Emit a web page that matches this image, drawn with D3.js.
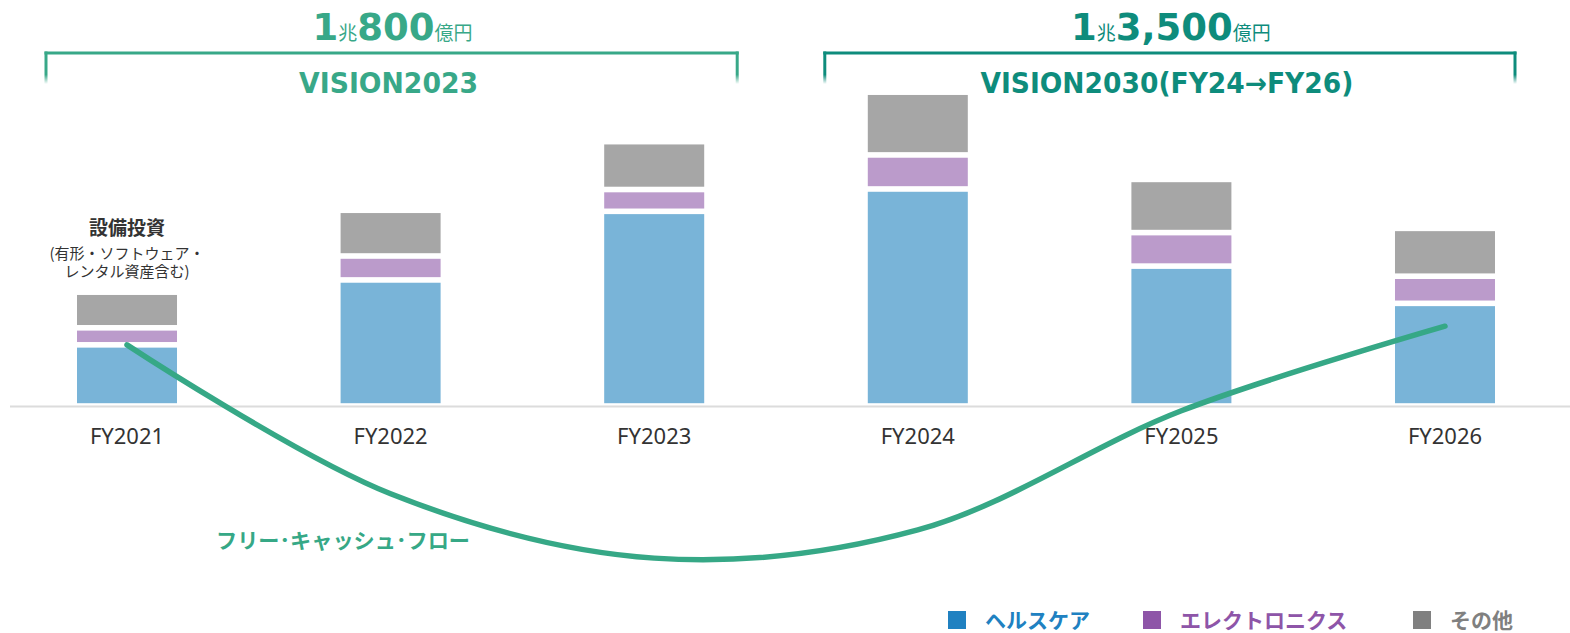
<!DOCTYPE html>
<html>
<head>
<meta charset="utf-8">
<script src="https://cdn.jsdelivr.net/npm/d3@7"></script>
<style>
  body { margin: 0; background: #fff; }
  svg { display: block; }
</style>
</head>
<body>
<div id="viz"></div>
<script>
'use strict';

// 億円
const years = ['FY2021', 'FY2022', 'FY2023', 'FY2024', 'FY2025', 'FY2026'];
const healthcare = [1150, 2370, 3660, 4080, 2630, 1930];
const electronics = [320, 450, 410, 640, 630, 510];
const others = [670, 860, 900, 1180, 1000, 900];
const freeCashFlow = [1150, -1650, -2860, -2330, -90, 1500];

const segmentNames = ['ヘルスケア', 'エレクトロニクス', 'その他'];
const periodNames = ['VISION2023', 'VISION2030(FY24→FY26)'];
const periodTotals = [['1', '兆', '800', '億円'], ['1', '兆', '3,500', '億円']];
const periodYears = [['FY2021', 'FY2023'], ['FY2024', 'FY2026']];

const W = 1570, H = 633;
const barColors = ['#79b4d8', '#bb9bcb', '#a6a6a6'];
const legendColors = ['#2081c1', '#8e55a8', '#808080'];
const periodColors = ['#38a888', '#0e8c7c'];
const fcfColor = '#36a886';

const svg = d3.select('#viz')
  .append('svg')
    .attr('width', W)
    .attr('height', H);

const x = d3.scaleBand()
  .domain(years)
  .range([77, 1495])
  .paddingInner(0.6206)
  .paddingOuter(0);

const y = d3.scaleLinear()
  .domain([0, 6000])
  .range([406, 406 - 6000 / 18.8]);

const cx = d => x(d) + x.bandwidth() / 2;

// stacked bars
const table = years.map((yr, i) => ({
  year: yr, h: healthcare[i], e: electronics[i], o: others[i]
}));
const series = d3.stack().keys(['h', 'e', 'o'])(table);
const gap = 2.8;

svg.append('g')
  .selectAll('g')
  .data(series)
  .join('g')
    .attr('fill', (d, i) => barColors[i])
  .selectAll('rect')
  .data(d => d)
  .join('rect')
    .attr('x', d => x(d.data.year))
    .attr('width', x.bandwidth())
    .attr('y', d => y(d[1]) + gap)
    .attr('height', d => y(d[0]) - y(d[1]) - gap * 2);

// baseline
svg.append('line')
  .attr('x1', 10)
  .attr('x2', W)
  .attr('y1', y(0) + 0.5)
  .attr('y2', y(0) + 0.5)
  .attr('stroke', '#dcdcdc')
  .attr('stroke-width', 2);

// x axis labels
const xAxis = svg.append('g')
  .attr('transform', `translate(0,${y(0)})`)
  .call(d3.axisBottom(x).tickSize(0).tickPadding(22.5));
xAxis.select('.domain').remove();
xAxis.selectAll('text')
  .attr('font-family', '"Noto Sans", sans-serif')
  .attr('font-size', 22)
  .attr('fill', '#333');

// free cash flow curve
const fcf = years.map((yr, i) => ({year: yr, v: freeCashFlow[i]}));
svg.append('path')
  .datum(fcf)
  .attr('fill', 'none')
  .attr('stroke', fcfColor)
  .attr('stroke-width', 5.5)
  .attr('stroke-linecap', 'round')
  .attr('d', d3.line()
    .x(d => cx(d.year))
    .y(d => y(d.v))
    .curve(d3.curveCatmullRom.alpha(0.5))
  );

svg.append('text')
  .attr('x', 216)
  .attr('y', 548)
  .attr('font-family', '"Noto Sans CJK JP", sans-serif')
  .attr('font-weight', 'bold')
  .attr('font-size', 21)
  .attr('fill', fcfColor)
  .attr('textLength', 254)
  .attr('lengthAdjust', 'spacingAndGlyphs')
  .text('フリー･キャッシュ･フロー');

// capex note over FY2021
const note = svg.append('g')
  .attr('text-anchor', 'middle')
  .attr('font-family', '"Noto Sans CJK JP", sans-serif')
  .attr('fill', '#333');
note.append('text')
  .attr('x', cx(years[0]))
  .attr('y', 235)
  .attr('font-weight', 'bold')
  .attr('font-size', 19)
  .text('設備投資');
note.append('text')
  .attr('x', cx(years[0]))
  .attr('y', 259)
  .attr('font-size', 15)
  .text('(有形・ソフトウェア・');
note.append('text')
  .attr('x', cx(years[0]))
  .attr('y', 277)
  .attr('font-size', 15)
  .text('レンタル資産含む)');

// period brackets
const defs = svg.append('defs');
const bracketTop = 53, bracketLeg = 31;
const bracketPad = [[31, 33], [43, 20]];

periodNames.forEach((name, i) => {
  const [a, b] = periodYears[i];
  const x1 = x(a) - bracketPad[i][0];
  const x2 = x(b) + x.bandwidth() + bracketPad[i][1];
  const mid = (x1 + x2) / 2;
  const col = periodColors[i];

  const grad = defs.append('linearGradient')
    .attr('id', 'leg' + i)
    .attr('gradientUnits', 'userSpaceOnUse')
    .attr('x1', 0).attr('x2', 0)
    .attr('y1', bracketTop).attr('y2', bracketTop + bracketLeg);
  grad.append('stop').attr('offset', '70%').attr('stop-color', col).attr('stop-opacity', 1);
  grad.append('stop').attr('offset', '100%').attr('stop-color', col).attr('stop-opacity', 0);

  svg.append('line')
    .attr('x1', x1 - 1.5).attr('x2', x2 + 1.5)
    .attr('y1', bracketTop).attr('y2', bracketTop)
    .attr('stroke', col)
    .attr('stroke-width', 3);

  [x1, x2].forEach(lx => {
    svg.append('line')
      .attr('x1', lx).attr('x2', lx)
      .attr('y1', bracketTop - 1.5).attr('y2', bracketTop + bracketLeg)
      .attr('stroke', `url(#leg${i})`)
      .attr('stroke-width', 3);
  });

  svg.append('text')
    .attr('x', mid - 3)
    .attr('y', 93)
    .attr('text-anchor', 'middle')
    .attr('font-family', '"DejaVu Sans", sans-serif')
    .attr('font-weight', 'bold')
    .attr('font-size', 28)
    .attr('fill', col)
    .attr('textLength', i === 0 ? 179 : 373)
    .attr('lengthAdjust', 'spacingAndGlyphs')
    .text(name);

  const t = svg.append('text')
    .attr('x', mid + 1)
    .attr('y', 40)
    .attr('text-anchor', 'middle')
    .attr('fill', col);
  periodTotals[i].forEach((s, k) => {
    t.append('tspan')
      .attr('font-size', k % 2 === 0 ? 37 : 19)
      .attr('font-weight', k % 2 === 0 ? 'bold' : 'normal')
      .attr('font-family', k % 2 === 0 ? '"DejaVu Sans", sans-serif' : '"Noto Sans CJK JP", sans-serif')
      .text(s);
  });
});

// legend
const legendX = [948, 1143, 1413];
const legend = svg.append('g')
  .selectAll('g')
  .data(segmentNames)
  .join('g')
    .attr('transform', (d, i) => `translate(${legendX[i]},611)`);
legend.append('rect')
  .attr('width', 18)
  .attr('height', 18)
  .attr('fill', (d, i) => legendColors[i]);
legend.append('text')
  .attr('x', 37)
  .attr('y', 16.5)
  .attr('font-family', '"Noto Sans CJK JP", sans-serif')
  .attr('font-weight', 'bold')
  .attr('font-size', 21)
  .attr('fill', (d, i) => legendColors[i])
  .text(d => d);
</script>
</body>
</html>
